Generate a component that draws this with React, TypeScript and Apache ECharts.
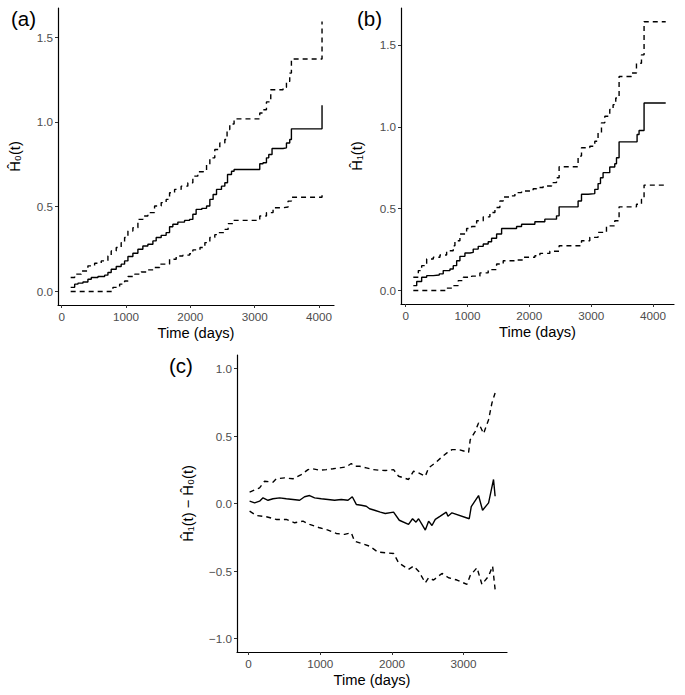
import React, { useEffect, useRef } from "react";
import * as echarts from "echarts";

// ---- Panel (a): cumulative hazard H0(t) ----
const aEst: [number, number][] = [[140,0.024],[202,0.043],[253,0.049],[331,0.056],[408,0.072],[460,0.082],[564,0.088],[668,0.096],[719,0.112],[770,0.131],[848,0.147],[925,0.161],[978,0.18],[1030,0.206],[1107,0.225],[1185,0.249],[1262,0.268],[1340,0.278],[1418,0.298],[1469,0.318],[1547,0.331],[1624,0.347],[1677,0.382],[1728,0.396],[1806,0.409],[1910,0.419],[1988,0.425],[2039,0.455],[2090,0.484],[2179,0.49],[2252,0.504],[2303,0.543],[2354,0.572],[2407,0.602],[2484,0.621],[2536,0.641],[2578,0.69],[2640,0.709],[2680,0.719],[3079,0.753],[3130,0.759],[3183,0.788],[3219,0.808],[3270,0.843],[3441,0.847],[3494,0.876],[3545,0.896],[3571,0.959],[4047,1.098]];
const aUp: [number, number][] = [[140,0.082],[202,0.102],[304,0.121],[408,0.151],[512,0.166],[615,0.18],[719,0.209],[770,0.239],[848,0.259],[925,0.288],[978,0.318],[1030,0.356],[1107,0.376],[1185,0.425],[1262,0.445],[1340,0.465],[1444,0.504],[1547,0.524],[1624,0.543],[1677,0.582],[1755,0.602],[1857,0.621],[1961,0.641],[2039,0.68],[2116,0.706],[2194,0.709],[2252,0.749],[2303,0.788],[2380,0.837],[2458,0.876],[2536,0.896],[2571,0.955],[2613,0.988],[2680,1.018],[3079,1.053],[3130,1.072],[3183,1.118],[3250,1.19],[3441,1.204],[3494,1.239],[3545,1.288],[3571,1.371],[4047,1.592]];
const aLo: [number, number][] = [[140,0],[797,0.024],[901,0.043],[978,0.062],[1030,0.088],[1134,0.102],[1236,0.115],[1340,0.127],[1444,0.141],[1522,0.161],[1677,0.19],[1780,0.209],[1884,0.214],[1988,0.222],[2039,0.245],[2150,0.259],[2226,0.288],[2303,0.318],[2380,0.335],[2432,0.347],[2536,0.366],[2587,0.4],[2665,0.419],[3079,0.445],[3183,0.465],[3286,0.494],[3441,0.498],[3519,0.533],[3571,0.556],[4047,0.591]];

// ---- Panel (b): cumulative hazard H1(t) ----
const bEst: [number, number][] = [[123,0.03],[178,0.055],[258,0.081],[339,0.091],[446,0.095],[543,0.102],[607,0.122],[716,0.132],[769,0.152],[824,0.182],[877,0.209],[958,0.229],[1039,0.233],[1092,0.253],[1173,0.27],[1254,0.284],[1334,0.298],[1389,0.319],[1470,0.345],[1551,0.379],[1793,0.391],[1874,0.405],[2089,0.42],[2250,0.436],[2439,0.456],[2481,0.511],[2788,0.547],[2843,0.588],[2950,0.592],[3058,0.618],[3111,0.653],[3150,0.689],[3192,0.72],[3300,0.754],[3381,0.774],[3409,0.811],[3451,0.908],[3742,0.953],[3774,0.977],[3855,1.145],[4205,1.145]];
const bUp: [number, number][] = [[123,0.081],[204,0.122],[258,0.152],[339,0.193],[446,0.203],[554,0.217],[662,0.243],[769,0.274],[796,0.304],[877,0.345],[985,0.379],[1066,0.391],[1147,0.426],[1254,0.45],[1362,0.477],[1443,0.507],[1523,0.547],[1577,0.571],[1685,0.578],[1766,0.598],[1874,0.608],[2061,0.622],[2116,0.629],[2223,0.638],[2359,0.659],[2439,0.689],[2481,0.756],[2788,0.821],[2843,0.872],[2977,0.881],[3058,0.912],[3111,0.963],[3166,1.024],[3220,1.064],[3300,1.105],[3354,1.135],[3397,1.176],[3451,1.307],[3651,1.328],[3732,1.388],[3813,1.439],[3855,1.641],[4205,1.641]];
const bLo: [number, number][] = [[123,0],[662,0.015],[769,0.03],[850,0.061],[931,0.081],[1066,0.088],[1200,0.108],[1334,0.128],[1470,0.162],[1577,0.182],[1766,0.187],[1900,0.203],[2089,0.213],[2170,0.227],[2331,0.24],[2481,0.274],[2843,0.304],[2977,0.325],[3111,0.355],[3247,0.395],[3381,0.426],[3451,0.511],[3732,0.527],[3813,0.557],[3855,0.644],[4205,0.644]];

// ---- Panel (c): difference H1(t) - H0(t) ----
const cEst: [number, number][] = [[14,0.017],[84,0.005],[153,0.017],[201,0.042],[271,0.024],[340,0.035],[433,0.042],[526,0.035],[620,0.03],[712,0.024],[781,0.05],[851,0.059],[921,0.042],[1014,0.035],[1108,0.03],[1200,0.024],[1293,0.03],[1387,0.024],[1447,0.05],[1503,-0.007],[1572,-0.013],[1642,-0.02],[1688,-0.039],[1758,-0.05],[1838,-0.064],[1907,-0.074],[2023,-0.064],[2103,-0.124],[2232,-0.155],[2288,-0.113],[2336,-0.138],[2372,-0.113],[2419,-0.155],[2466,-0.197],[2512,-0.131],[2559,-0.163],[2605,-0.118],[2675,-0.094],[2759,-0.064],[2782,-0.094],[2838,-0.069],[3079,-0.113],[3107,-0.024],[3209,0.059],[3265,-0.05],[3349,0.005],[3418,0.178],[3440,0.054]];
const cUp: [number, number][] = [[14,0.084],[153,0.116],[223,0.165],[340,0.158],[386,0.183],[502,0.19],[620,0.183],[735,0.214],[829,0.251],[899,0.257],[991,0.246],[1084,0.251],[1178,0.257],[1270,0.264],[1363,0.271],[1433,0.296],[1479,0.276],[1549,0.276],[1642,0.264],[1736,0.251],[1828,0.246],[1907,0.244],[2023,0.251],[2093,0.202],[2232,0.178],[2302,0.239],[2372,0.227],[2466,0.202],[2512,0.264],[2605,0.301],[2698,0.345],[2768,0.375],[2838,0.399],[2930,0.399],[3070,0.379],[3093,0.473],[3163,0.535],[3209,0.597],[3279,0.518],[3349,0.621],[3396,0.745],[3440,0.819]];
const cLo: [number, number][] = [[14,-0.057],[107,-0.089],[247,-0.098],[386,-0.118],[526,-0.118],[642,-0.143],[759,-0.131],[851,-0.155],[991,-0.18],[1108,-0.197],[1224,-0.222],[1339,-0.229],[1433,-0.217],[1479,-0.279],[1572,-0.296],[1688,-0.316],[1805,-0.36],[1907,-0.365],[2023,-0.37],[2093,-0.439],[2232,-0.488],[2302,-0.464],[2372,-0.501],[2466,-0.587],[2512,-0.55],[2581,-0.567],[2698,-0.518],[2791,-0.55],[2908,-0.567],[3047,-0.599],[3093,-0.533],[3187,-0.476],[3256,-0.599],[3349,-0.538],[3405,-0.464],[3440,-0.636]];

// ---- tick values ----
const xTicksAB = [0, 1000, 2000, 3000, 4000];
const xTicksC = [0, 1000, 2000, 3000];
const yTicksAB = [0, 0.5, 1, 1.5];
const yTicksC = [-1, -0.5, 0, 0.5, 1];

const FONT = "'Liberation Sans', Arial, Helvetica, sans-serif";

function xAxisCfg(gridIndex: number, min: number, max: number, ticks: number[]) {
  return {
    type: "value",
    gridIndex,
    min,
    max,
    name: "Time (days)",
    nameLocation: "middle",
    nameGap: 20,
    nameTextStyle: { color: "#000", fontSize: 14.7, fontFamily: FONT },
    axisLine: { show: true, onZero: false, lineStyle: { color: "#000", width: 1.2 } },
    axisTick: { show: true, length: 3, customValues: ticks, lineStyle: { color: "#333", width: 1 } },
    axisLabel: {
      customValues: ticks,
      color: "#4d4d4d",
      fontSize: 11.7,
      fontFamily: FONT,
      margin: 5,
      formatter: (v: number) => String(v),
    },
    splitLine: { show: false },
  };
}

function yAxisCfg(gridIndex: number, min: number, max: number, ticks: number[], name: string, gap: number) {
  return {
    type: "value",
    gridIndex,
    min,
    max,
    name,
    nameLocation: "middle",
    nameRotate: 90,
    nameGap: gap,
    nameTextStyle: { color: "#000", fontSize: 14.7, fontFamily: FONT },
    axisLine: { show: true, onZero: false, lineStyle: { color: "#000", width: 1.2 } },
    axisTick: { show: true, length: 3, customValues: ticks, lineStyle: { color: "#333", width: 1 } },
    axisLabel: {
      customValues: ticks,
      color: "#4d4d4d",
      fontSize: 11.7,
      fontFamily: FONT,
      margin: 5,
      formatter: (v: number) => v.toFixed(1).replace("-", "\u2212"),
    },
    splitLine: { show: false },
  };
}

function lineSeries(idx: number, data: [number, number][], dashed: boolean, step: boolean) {
  return {
    type: "line",
    xAxisIndex: idx,
    yAxisIndex: idx,
    data,
    step: step ? "end" : false,
    showSymbol: false,
    symbol: "none",
    silent: true,
    lineStyle: { color: "#000", width: 1.4, type: dashed ? [5, 4] : "solid" },
  };
}

export default function App() {
  const ref = useRef<HTMLDivElement>(null);
  useEffect(() => {
    if (!ref.current) return;
    const chart = echarts.init(ref.current, undefined, { renderer: "svg" });
    chart.setOption({
      animation: false,
      backgroundColor: "#fff",
      grid: [
        { left: 58, top: 8, width: 276, height: 297 },
        { left: 401, top: 8, width: 273, height: 296 },
        { left: 237, top: 355, width: 270, height: 297 },
      ],
      xAxis: [
        xAxisCfg(0, -57, 4233, xTicksAB),
        xAxisCfg(1, -76, 4339, xTicksAB),
        xAxisCfg(2, -162, 3606, xTicksC),
      ],
      yAxis: [
        yAxisCfg(0, -0.08, 1.672, yTicksAB, "\u0124\u2080(t)", 36),
        yAxisCfg(1, -0.082, 1.725, yTicksAB, "\u0124\u2081(t)", 37),
        yAxisCfg(2, -1.1, 1.1, yTicksC, "\u0124\u2081(t) \u2212 \u0124\u2080(t)", 42),
      ],
      series: [
        lineSeries(0, aUp, true, true),
        lineSeries(0, aLo, true, true),
        lineSeries(0, aEst, false, true),
        lineSeries(1, bUp, true, true),
        lineSeries(1, bLo, true, true),
        lineSeries(1, bEst, false, true),
        lineSeries(2, cUp, true, false),
        lineSeries(2, cLo, true, false),
        lineSeries(2, cEst, false, false),
      ],
      graphic: [
        { type: "text", left: 11, top: 8, style: { text: "(a)", fontSize: 20.5, fontFamily: FONT, fill: "#000" } },
        { type: "text", left: 357, top: 8, style: { text: "(b)", fontSize: 20.5, fontFamily: FONT, fill: "#000" } },
        { type: "text", left: 169, top: 355, style: { text: "(c)", fontSize: 20.5, fontFamily: FONT, fill: "#000" } },
      ],
    });
    return () => chart.dispose();
  }, []);
  return (
    <div
      ref={ref}
      style={{ position: "absolute", left: 0, top: 0, width: 685, height: 695, background: "#fff" }}
    />
  );
}
